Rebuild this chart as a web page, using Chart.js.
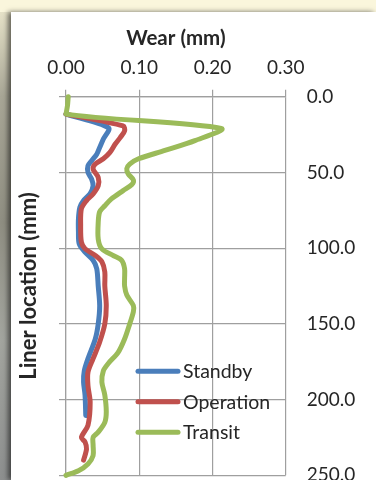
<!DOCTYPE html>
<html>
<head>
<meta charset="utf-8">
<script src="https://cdn.jsdelivr.net/npm/chart.js@4.4.0/dist/chart.umd.min.js"></script>
<style>
  html, body { margin: 0; padding: 0; }
  body { width: 376px; height: 480px; overflow: hidden; position: relative; background: #faf6dc; }
  .arc { position: absolute; border-radius: 50%; border: 3px solid rgba(175, 175, 165, 0.55); }
  #strip { position: absolute; left: 0; top: 12px; width: 12px; height: 468px;
    background: linear-gradient(180deg, #e6e2c8 0%, #a8a696 18%, #8f8e82 45%, #a3a59f 70%, #8d8f8f 100%); }
  #panel { position: absolute; left: 11px; top: 12px; right: 0; bottom: 0; background: #fff;
    box-shadow: -3px 0 5px rgba(0, 0, 0, 0.55); }
  #wrap { position: absolute; left: 0; top: 0; width: 376px; height: 500px; }
</style>
</head>
<body>
<div class="arc" style="left:190px; top:4px; width:640px; height:640px;"></div>
<div class="arc" style="left:250px; top:-4px; width:560px; height:560px;"></div>
<div id="strip"></div>
<div id="panel"></div>
<div id="wrap"><canvas id="canvas" width="376" height="500"></canvas></div>
<script>
// liner location (mm) and wear (mm)
const standbyLoc  = [11.5, 20.5, 28, 33.5, 38, 42.3, 45.6, 50, 54.4, 58.8, 64, 68.6, 73, 80.7, 89.5, 97, 102.6, 108, 113.6, 125, 138, 150, 160, 173, 181, 188.5, 197, 210.5];
const standbyWear = [0.000, 0.058, 0.051, 0.046, 0.042, 0.035, 0.030, 0.030, 0.035, 0.037, 0.033, 0.024, 0.019, 0.017, 0.017, 0.018, 0.026, 0.037, 0.042, 0.044, 0.046, 0.044, 0.040, 0.030, 0.025, 0.024, 0.026, 0.027];

const operationLoc  = [11.5, 19.3, 22.6, 27, 31.4, 36.8, 41, 44.5, 47.8, 53.3, 58.8, 64.2, 68.6, 74, 85, 96, 100.4, 104.8, 109, 115.8, 125, 138, 150, 162, 173, 182, 190.8, 201.8, 217, 225, 228, 232.6, 240];
const operationWear = [0.000, 0.078, 0.080, 0.074, 0.067, 0.060, 0.051, 0.040, 0.037, 0.044, 0.044, 0.037, 0.028, 0.021, 0.020, 0.021, 0.026, 0.040, 0.049, 0.053, 0.053, 0.055, 0.053, 0.046, 0.037, 0.030, 0.030, 0.033, 0.030, 0.021, 0.026, 0.028, 0.024];

const transitLoc  = [0, 6, 11.5, 21, 29, 35.5, 41, 44.5, 47.5, 51, 55, 58, 62, 67.5, 72, 76, 83, 94, 100.5, 105, 108, 113.5, 120, 125, 131, 138, 142, 150, 160, 169, 176, 181, 188.5, 197, 208, 215, 221.5, 225, 230, 237, 242.5, 247, 250];
const transitWear = [0.003, 0.002, 0.000, 0.212, 0.176, 0.135, 0.099, 0.087, 0.083, 0.085, 0.092, 0.090, 0.078, 0.062, 0.053, 0.046, 0.044, 0.044, 0.049, 0.065, 0.076, 0.080, 0.080, 0.080, 0.083, 0.092, 0.092, 0.087, 0.080, 0.071, 0.058, 0.051, 0.049, 0.053, 0.055, 0.053, 0.044, 0.037, 0.037, 0.037, 0.030, 0.017, 0.000];

const seriesNames  = ['Standby', 'Operation', 'Transit'];
const seriesColors = ['#4a7ebb', '#c0504d', '#9bbb59'];

const gridColor = '#9f9f9f';
const textColor = '#262626';

function pts(locs, wears) {
    return locs.map((l, i) => ({ x: wears[i], y: l }));
}

function line(i, locs, wears) {
    return {
        label: seriesNames[i],
        data: pts(locs, wears),
        showLine: true,
        borderColor: seriesColors[i],
        backgroundColor: seriesColors[i],
        borderWidth: 5,
        borderCapStyle: 'round',
        borderJoinStyle: 'round',
        pointRadius: 0,
        tension: 0.3,
        clip: false,
        order: 3 - i,
    };
}

// legend sits inside the plot, lower right
const insideLegend = {
    id: 'insideLegend',
    afterDatasetsDraw(chart) {
        const { ctx, chartArea } = chart;
        const x0 = chartArea.left + 72;
        let y = chartArea.top + 274.5;
        ctx.save();
        ctx.font = '19.5px Lato';
        ctx.textBaseline = 'middle';
        chart.data.datasets.forEach(ds => {
            ctx.strokeStyle = ds.borderColor;
            ctx.lineWidth = 5;
            ctx.lineCap = 'round';
            ctx.beginPath();
            ctx.moveTo(x0, y);
            ctx.lineTo(x0 + 40, y);
            ctx.stroke();
            ctx.fillStyle = textColor;
            ctx.fillText(ds.label, x0 + 45, y + 1);
            y += 30.5;
        });
        ctx.restore();
    }
};

Chart.defaults.font.family = 'Lato';
Chart.defaults.color = textColor;

const ctx = document.getElementById('canvas').getContext('2d');
const chart = new Chart(ctx, {
    type: 'scatter',
    data: {
        datasets: [
            line(0, standbyLoc, standbyWear),
            line(1, operationLoc, operationWear),
            line(2, transitLoc, transitWear),
        ]
    },
    options: {
        responsive: false,
        animation: false,
        layout: { padding: { left: 0, right: 0, top: 0, bottom: 24.7 } },
        plugins: { legend: { display: false }, tooltip: { enabled: false } },
        scales: {
            x: {
                type: 'linear',
                position: 'top',
                min: 0, max: 0.3,
                ticks: { stepSize: 0.1, padding: 10, font: { size: 19 }, callback: v => v.toFixed(2) },
                grid: { color: gridColor, lineWidth: 1.2, tickLength: 7 },
                border: { color: gridColor, width: 1.2 },
                title: { display: true, text: 'Wear (mm)', font: { size: 20.5, weight: 'bold' }, padding: { top: 26, bottom: 0 } },
                afterFit: s => { s.height = 96.7; }
            },
            y: {
                type: 'linear',
                position: 'left',
                reverse: true,
                min: 0, max: 250,
                ticks: { stepSize: 50, display: false },
                grid: { color: gridColor, lineWidth: 1.2, tickLength: 7 },
                border: { color: gridColor, width: 1.2 },
                title: { display: true, text: 'Liner location (mm)', font: { size: 22, weight: 'bold' }, padding: { top: 16, bottom: 0 } },
                afterFit: s => { s.width = 66; }
            },
            y2: {
                type: 'linear',
                position: 'right',
                reverse: true,
                min: 0, max: 250,
                ticks: { stepSize: 50, padding: 0, font: { size: 19 }, callback: v => v.toFixed(1) },
                grid: { drawOnChartArea: false, color: 'rgba(0,0,0,0)', tickLength: 21 },
                border: { display: false },
                afterFit: s => { s.width = 90.3; }
            }
        }
    },
    plugins: [insideLegend]
});
</script>
</body>
</html>
